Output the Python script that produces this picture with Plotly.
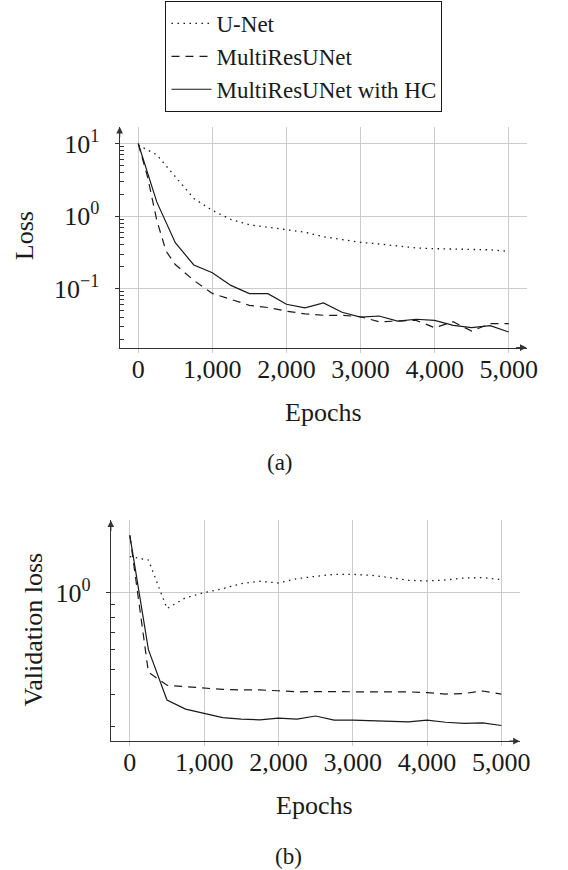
import plotly.graph_objects as go

# ── Data ──────────────────────────────────────────────────────────────────────
epochs_a_dash = [0, 125, 250, 375, 500, 750, 1000, 1250, 1500, 1750, 2000, 2250,
                 2500, 2750, 3000, 3250, 3500, 3750, 4000, 4250, 4500, 4750, 5000]
epochs = [0, 250, 500, 750, 1000, 1250, 1500, 1750, 2000, 2250, 2500, 2750,
          3000, 3250, 3500, 3750, 4000, 4250, 4500, 4750, 5000]

# (a) training loss
unet_loss = [9.5, 7.0, 3.5, 1.75, 1.2, 0.90, 0.76, 0.70, 0.66, 0.60, 0.52, 0.47,
             0.435, 0.413, 0.388, 0.364, 0.356, 0.354, 0.348, 0.343, 0.327]
mru_loss = [10.0, 3.5, 0.88, 0.33, 0.215, 0.13, 0.086, 0.072, 0.059, 0.055, 0.049,
            0.045, 0.043, 0.043, 0.041, 0.035, 0.036, 0.0366, 0.029, 0.035, 0.026,
            0.033, 0.033]
hc_loss = [10.0, 1.57, 0.43, 0.212, 0.166, 0.111, 0.0855, 0.0855, 0.061, 0.0544,
           0.0638, 0.0474, 0.0405, 0.042, 0.0358, 0.0379, 0.0366, 0.0313, 0.0291,
           0.031, 0.0253]

# (b) validation loss
unet_val = [1.38, 1.34, 0.867, 0.955, 1.0, 1.036, 1.084, 1.107, 1.09, 1.133, 1.157,
            1.178, 1.178, 1.168, 1.144, 1.117, 1.11, 1.12, 1.14, 1.144, 1.123]
mru_val = [1.67, 0.49, 0.436, 0.430, 0.426, 0.420, 0.418, 0.418, 0.415, 0.411, 0.412,
           0.411, 0.410, 0.411, 0.411, 0.411, 0.408, 0.403, 0.405, 0.414, 0.403]
hc_val = [1.67, 0.60, 0.382, 0.352, 0.339, 0.326, 0.322, 0.320, 0.325, 0.322, 0.331,
          0.319, 0.319, 0.317, 0.314, 0.314, 0.319, 0.313, 0.310, 0.311, 0.304]

names = ["U-Net", "MultiResUNet", "MultiResUNet with HC"]

ytick_a = [0.1, 1, 10]
ytick_a_txt = ["10<sup>−1</sup>", "10<sup>0</sup>", "10<sup>1</sup>"]
ytick_b = [1]
ytick_b_txt = ["10<sup>0</sup>"]
# minor log ticks (2..9 in each decade shown)
minor_a = [m * d for d in (0.01, 0.1, 1) for m in range(2, 10)]
minor_b = [0.3, 0.4, 0.5, 0.6, 0.7, 0.8, 0.9]

# ── Style ────────────────────────────────────────────────────────────────────
W, H = 568, 870
FONT = "Liberation Serif"
_INK = "#1a1a1a"
_AX = "#333333"
_GRID = "#cccccc"
DOT = "1.5px,4.5px"
DASH = "8px,6px"


def px_x(p):
    return p / W


def px_y(p):
    return 1 - p / H


fig = go.Figure()

styles = [dict(dash=DOT, width=1.3), dict(dash=DASH, width=1.2), dict(dash="solid", width=1.2)]

for name, xs, ys, st in zip(names, [epochs, epochs_a_dash, epochs],
                            [unet_loss, mru_loss, hc_loss], styles):
    fig.add_trace(go.Scatter(x=xs, y=ys, name=name, mode="lines",
                             line=dict(color=_INK, **st), xaxis="x", yaxis="y"))

for name, ys, st in zip(names, [unet_val, mru_val, hc_val], styles):
    fig.add_trace(go.Scatter(x=epochs, y=ys, name=name, mode="lines", showlegend=False,
                             line=dict(color=_INK, **st), xaxis="x2", yaxis="y2"))


def xax(dom, rng):
    return dict(
        domain=dom, range=rng, showline=True, linecolor=_AX, linewidth=1.2,
        showgrid=True, gridcolor=_GRID, gridwidth=1, zeroline=False,
        tick0=0, dtick=1000, tickformat=",d",
        ticks="outside", ticklen=4, tickcolor=_GRID, tickwidth=1,
        ticklabelstandoff=-6,
        tickfont=dict(family=FONT, size=26, color=_INK),
    )


def yax(dom, rng, tv, tt, mv):
    return dict(
        type="log", domain=dom, range=rng, showline=True, linecolor=_AX, linewidth=1.2,
        showgrid=True, gridcolor=_GRID, gridwidth=1, zeroline=False,
        tickmode="array", tickvals=tv, ticktext=tt,
        ticks="outside", ticklen=4, tickcolor=_AX, tickwidth=1,
        ticklabelstandoff=10,
        minor=dict(ticks="inside", ticklen=4, tickcolor=_AX, tickwidth=1,
                   tickmode="array", tickvals=mv, showgrid=False),
        tickfont=dict(family=FONT, size=26, color=_INK),
    )


fig.update_layout(
    width=W, height=H,
    paper_bgcolor="white", plot_bgcolor="white",
    margin=dict(l=0, r=0, t=0, b=0),
    font=dict(family=FONT, size=22, color=_INK),
    xaxis={**xax([px_x(122), px_x(537)], [-251, 5241]), "anchor": "y"},
    yaxis={**yax([px_y(347), px_y(126)], [-1.812, 1.23], ytick_a, ytick_a_txt, minor_a),
           "anchor": "x"},
    xaxis2={**xax([px_x(113), px_x(530)], [-256, 5248]), "anchor": "y2"},
    yaxis2={**yax([px_y(741), px_y(520)], [-0.578, 0.281], ytick_b, ytick_b_txt, minor_b),
            "anchor": "x2"},
    legend=dict(
        x=px_x(310), xanchor="center", y=px_y(0), yanchor="top",
        bordercolor=_INK, borderwidth=1, bgcolor="white",
        font=dict(family=FONT, size=23, color=_INK),
        itemwidth=40, tracegroupgap=0,
    ),
    showlegend=True,
)

# axis arrows
for (tx, ty, ax, ay) in [(537, 347, -12, 0), (122, 126, 0, 12),
                         (530, 741, -12, 0), (113, 520, 0, 12)]:
    fig.add_annotation(x=px_x(tx), y=px_y(ty), xref="paper", yref="paper",
                       ax=ax, ay=ay, axref="pixel", ayref="pixel", text="",
                       showarrow=True, arrowhead=2, arrowsize=1.1, arrowwidth=1.2,
                       arrowcolor=_AX)

# titles and captions
labels = [
    ("Epochs", 330, 412, 0, 26),
    ("Loss", 25, 235, -90, 26),
    ("(a)", 286, 462, 0, 23),
    ("Epochs", 321, 805, 0, 26),
    ("Validation loss", 34, 629, -90, 26),
    ("(b)", 294, 856, 0, 23),
]
for txt, cx, cy, ang, sz in labels:
    fig.add_annotation(x=px_x(cx), y=px_y(cy), xref="paper", yref="paper",
                       text=txt, showarrow=False, textangle=ang,
                       xanchor="center", yanchor="middle",
                       font=dict(family=FONT, size=sz, color=_INK))

fig.write_html("out.html", config={"displayModeBar": False},
               post_script="document.body.style.margin='0px';")
